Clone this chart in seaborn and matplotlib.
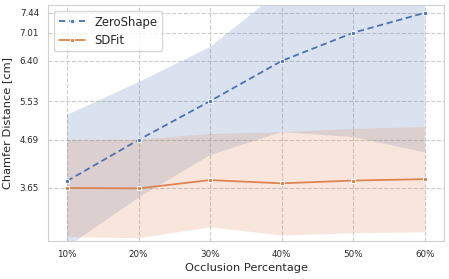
import numpy as np
import pandas as pd
import seaborn as sns
import matplotlib
matplotlib.use('Agg')
import matplotlib.pyplot as plt

occlusion = ['10%', '20%', '30%', '40%', '50%', '60%']
zeroshape_mean = [3.80, 4.69, 5.53, 6.40, 7.01, 7.44]
zeroshape_std = [1.43, 1.25, 1.17, 1.54, 2.26, 3.02]
sdfit_mean = [3.65, 3.64, 3.82, 3.75, 3.81, 3.84]
sdfit_std = [1.05, 1.07, 1.01, 1.12, 1.13, 1.14]
yticks = [3.65, 4.69, 5.53, 6.40, 7.01, 7.44]

sns.set_style('whitegrid', {'grid.linestyle': '--', 'grid.color': '#cccccc',
                            'axes.edgecolor': '#d0d0d0'})
plt.rcParams['font.family'] = ['DejaVu Sans']

df = pd.concat([
    pd.DataFrame({'Occlusion': occlusion, 'CD': zeroshape_mean, 'Method': 'ZeroShape'}),
    pd.DataFrame({'Occlusion': occlusion, 'CD': sdfit_mean, 'Method': 'SDFit'}),
])

pal = sns.color_palette('deep')
fig, ax = plt.subplots(figsize=(4.49, 2.79), dpi=100)
fig.subplots_adjust(left=0.107, right=0.989, top=0.982, bottom=0.136)

sns.lineplot(data=df, x='Occlusion', y='CD', hue='Method', style='Method',
             palette=[pal[0], pal[1]], dashes=[(3.5, 2), ''], markers=['o', 's'],
             markersize=3.2, linewidth=1.3, ax=ax)

zm, zs = np.array(zeroshape_mean), np.array(zeroshape_std)
sm, ss = np.array(sdfit_mean), np.array(sdfit_std)
ax.fill_between(occlusion, zm - zs, zm + zs, color=pal[0], alpha=0.2, linewidth=0)
ax.fill_between(occlusion, sm - ss, sm + ss, color=pal[1], alpha=0.2, linewidth=0)

ax.set_yticks(yticks)
ax.set_yticklabels([f'{v:.2f}' for v in yticks])
ax.set_ylim(2.5, 7.61)
ax.set_xlim(-0.265, 5.27)
ax.tick_params(labelsize=6.3, pad=3)
ax.set_xlabel('Occlusion Percentage', fontsize=8.2, labelpad=3)
ax.set_ylabel('Chamfer Distance [cm]', fontsize=8.2, labelpad=5)
ax.legend(loc='upper left', fontsize=8.4, title=None, handlelength=2.3,
          labelspacing=0.45)

plt.savefig('out.png', dpi=100)
